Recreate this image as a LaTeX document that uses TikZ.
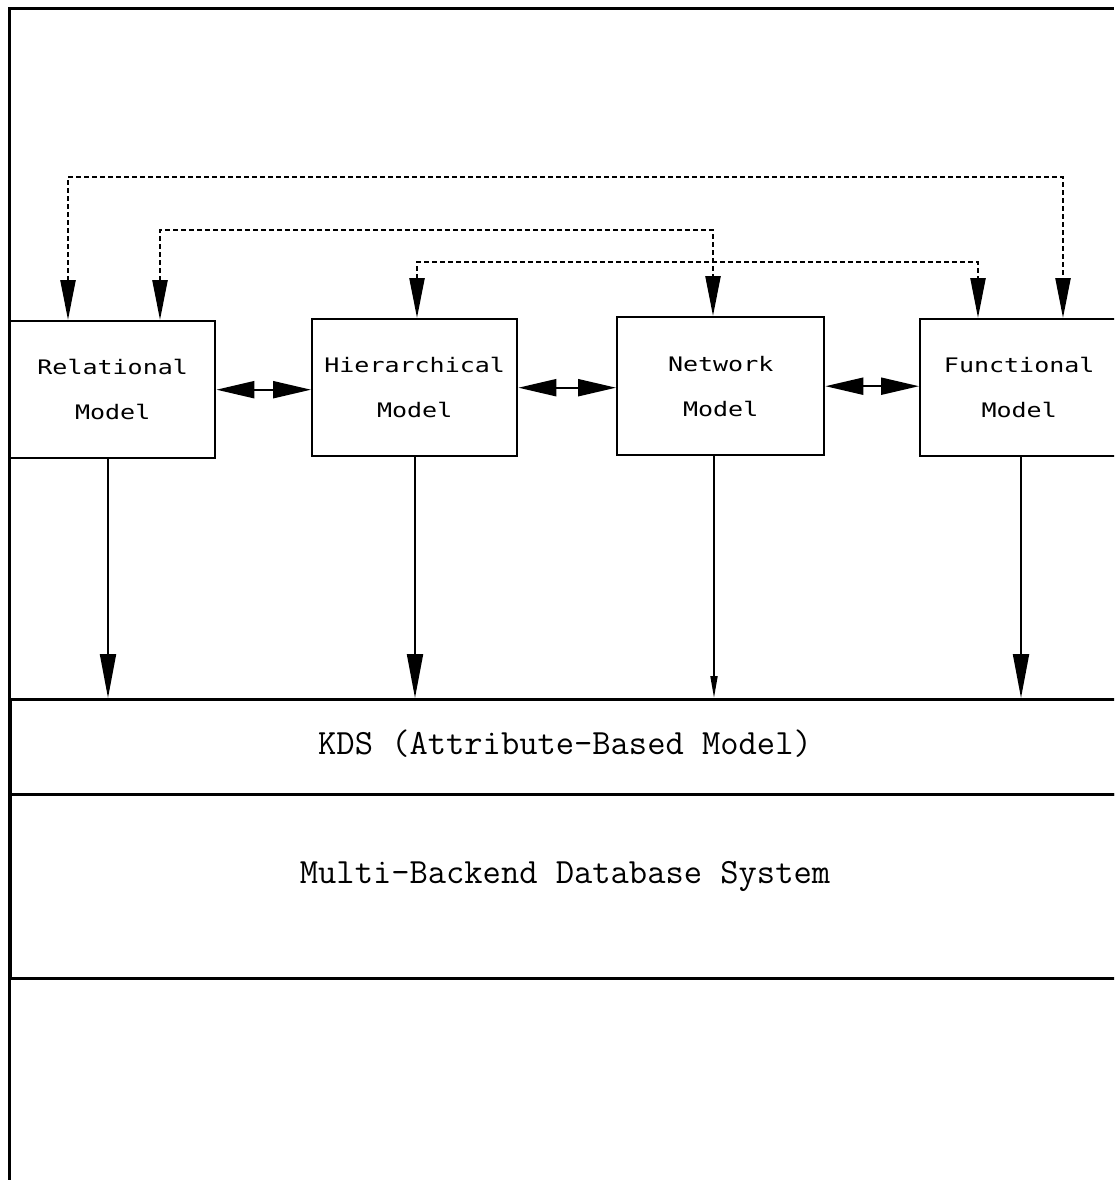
\documentclass[tikz,border=0pt]{standalone}
\usepackage{fontspec}
\newfontfamily\plotfont[FakeStretch=1.25]{DejaVu Sans Mono}
\usetikzlibrary{arrows.meta}
\begin{document}
\begin{tikzpicture}[x=1pt,y=-1pt,
  modelbox/.style={draw, line width=2.4pt, anchor=north west, inner sep=0pt,
    minimum height=137pt, align=center,
    font=\plotfont\fontsize{20}{45}\selectfont},
  layerbox/.style={draw, line width=3pt, anchor=north west, inner sep=0pt,
    minimum width=1130pt, font=\ttfamily\fontsize{35.5}{40}\selectfont},
  dotconn/.style={line width=2.4pt, dash pattern=on 5pt off 3pt,
    {Triangle[length=40pt,width=15pt]}-{Triangle[length=40pt,width=15pt]}},
  hconn/.style={line width=2.2pt,
    {Triangle[length=38pt,width=17pt]}-{Triangle[length=38pt,width=17pt]}},
  dconn/.style={line width=2pt, -{Triangle[length=44pt,width=16pt]}},
  dconnsmall/.style={line width=1.8pt, -{Triangle[length=22pt,width=7pt]}}
]
\useasboundingbox (0,0) rectangle (1114,1180);
\clip (0,0) rectangle (1114,1180);

% outer frame
\draw[line width=3pt] (9,1180) -- (9,9) -- (1114,9);

% model boxes
\node[modelbox, minimum width=205pt] (rel)  at (9,320)   {Relational\\Model};
\node[modelbox, minimum width=205pt] (hier) at (311,318) {Hierarchical\\Model};
\node[modelbox, minimum width=207pt, minimum height=138pt] (net) at (616,316) {Network\\Model};
\node[modelbox, minimum width=198pt] (func) at (919,318) {Functional\\Model};

% layer boxes
\node[layerbox, minimum height=95pt]  (kds)  at (9,698) {};
\node[layerbox, minimum height=184pt] (mbds) at (9,793) {};
\node[font=\ttfamily\fontsize{35.5}{40}\selectfont] (kdst) at (565,744) {KDS (Attribute-Based Model)};
\node[font=\ttfamily\fontsize{35.5}{40}\selectfont] (mbdst) at (565,876) {Multi-Backend Database System};

% dotted connections
\coordinate (a1) at (68,177);  \coordinate (b1) at (1063,177);
\coordinate (a2) at (160,230); \coordinate (b2) at (713,230);
\coordinate (a3) at (417,262); \coordinate (b3) at (978,262);
\draw[dotconn] (rel.north -| a1) -- (a1) -- (b1) -- (func.north -| b1);
\draw[dotconn] (rel.north -| a2) -- (a2) -- (b2) -- (net.north -| b2);
\draw[dotconn] (hier.north -| a3) -- (a3) -- (b3) -- (func.north -| b3);

% horizontal double arrows
\draw[hconn] (rel.east) -- (rel.east -| hier.west);
\draw[hconn] (hier.east) -- (hier.east -| net.west);
\draw[hconn] (net.east) -- (net.east -| func.west);

% down arrows
\coordinate (c1) at (108,0);
\coordinate (c2) at (415,0);
\coordinate (c3) at (714,0);
\coordinate (c4) at (1021,0);
\draw[dconn] (rel.south -| c1) -- (kds.north -| c1);
\draw[dconn] (hier.south -| c2) -- (kds.north -| c2);
\draw[dconnsmall] (net.south -| c3) -- (kds.north -| c3);
\draw[dconn] (func.south -| c4) -- (kds.north -| c4);
\end{tikzpicture}
\end{document}
